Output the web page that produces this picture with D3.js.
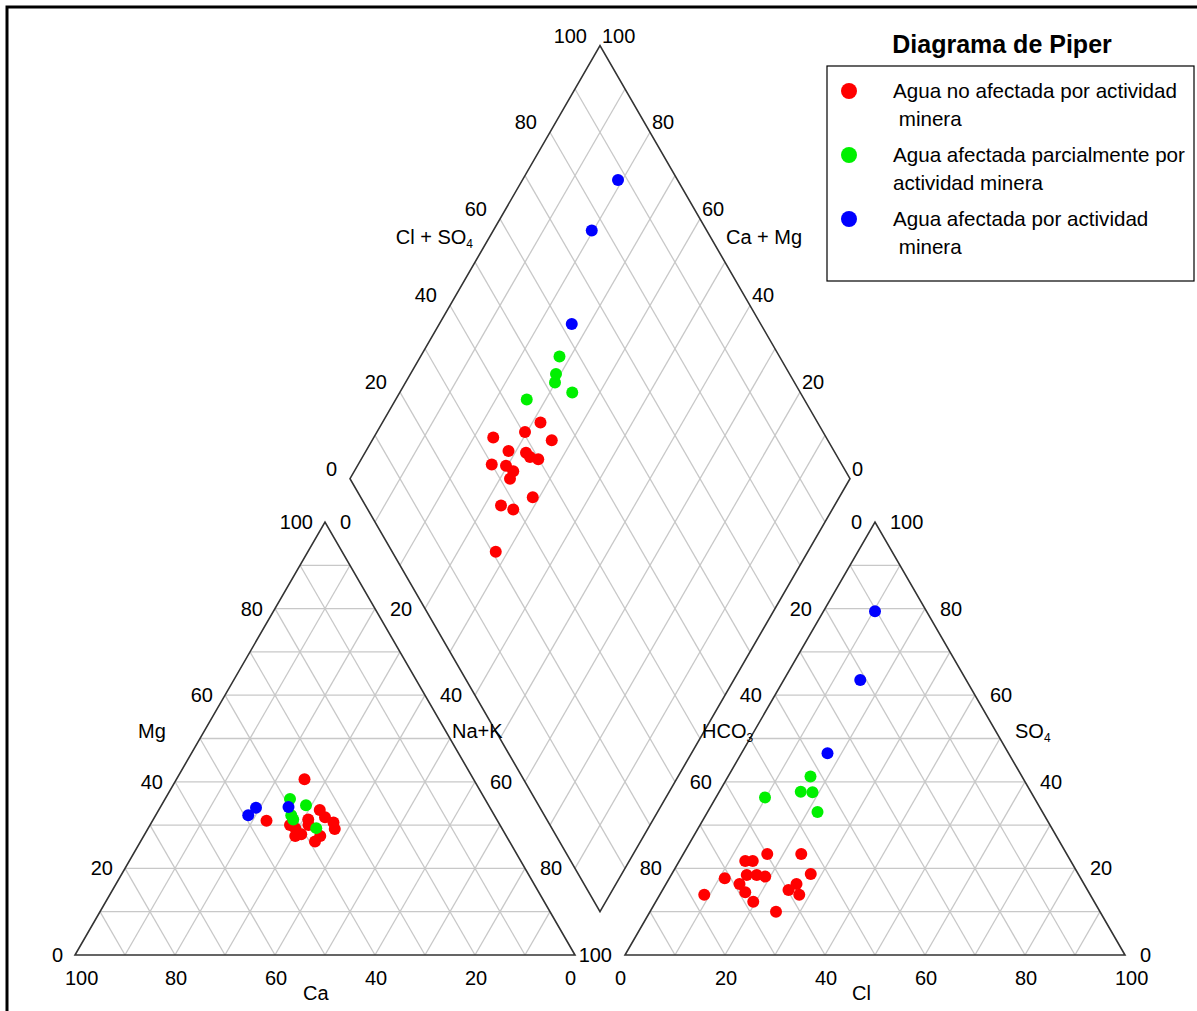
<!DOCTYPE html>
<html>
<head>
<meta charset="utf-8">
<script src="https://cdn.jsdelivr.net/npm/d3@7"></script>
<style>
  body { margin: 0; background: #fff; }
  text { font-family: "Liberation Sans", Arial, sans-serif; font-size: 20px; fill: #000; }
</style>
</head>
<body>
<div id="chart"></div>
<script>
// groups and colours
var groups = ["Agua no afectada por actividad minera",
              "Agua afectada parcialmente por actividad minera",
              "Agua afectada por actividad minera"];
var groupColors = ["#ff0000", "#00f000", "#0000ff"];
var legendLines = [["Agua no afectada por actividad", " minera"],
                   ["Agua afectada parcialmente por", "actividad minera"],
                   ["Agua afectada por actividad", " minera"]];
var ticks = [0, 20, 40, 60, 80, 100];

// cations, % meq [Ca, Mg]  (Na+K = 100 - Ca - Mg)
var catNo = [[33.8,40.6],[46.2,31.0],[34.3,33.5],[34.1,31.8],[33.0,30.6],[33.5,29.1],[37.7,31.3],
             [41.3,29.3],[42.2,27.5],[40.8,27.9],[37.2,27.5],[38.9,26.2],[38.3,30.0],[42.0,30.0]];
var catParcial = [[39.0,36.0],[36.5,34.6],[40.7,31.3],[40.6,32.3],[37.1,29.3]];
var catAfectada = [[49.2,32.3],[46.8,34.0],[40.2,34.2]];

// anions, % meq [Cl, SO4]  (HCO3 = 100 - Cl - SO4)
var anNo = [[16.8,23.3],[23.6,23.3],[13.2,21.7],[14.7,21.7],[27.8,18.7],[11.1,17.7],[15.1,18.5],
            [17.1,18.5],[19.0,18.1],[14.7,16.4],[26.1,16.4],[16.8,14.5],[25.2,15.0],[27.9,13.9],
            [8.9,13.9],[19.5,12.3],[25.2,10.0]];
var anParcial = [[16.5,41.2],[16.3,37.7],[18.7,37.6],[9.8,36.4],[22.0,33.0]];
var anAfectada = [[10.3,79.4],[15.3,63.5],[17.2,46.6]];

// diamond [Cl+SO4, Ca+Mg]
var diaNo = [[33.4,76.1],[40.4,70.4],[44.6,68.4],[44.8,64.1],[34.9,71.5],[38.2,67.8],[38.5,66.5],
             [39.9,64.6],[30.0,73.3],[32.7,70.3],[33.5,68.2],[32.0,68.0],[34.4,61.3],[27.1,66.7],
             [29.1,63.8],[20.7,62.4]];
var diaParcial = [[56.0,72.2],[53.3,70.9],[52.1,70.1],[54.4,65.5],[44.5,73.8]];
var diaAfectada = [[88.1,80.9],[77.0,80.3],[62.2,73.5]];

var cations = [catNo, catParcial, catAfectada],
    anions = [anNo, anParcial, anAfectada],
    dias = [diaNo, diaParcial, diaAfectada];

var W = 1197, H = 1011;
var side = 500, sq = Math.sqrt(3) / 2;
var leftX = 75, rightX = 625, baseY = 955, gap = rightX - leftX - side;

var t = d3.scaleLinear().domain([0, 100]).range([0, side]);

function cation(ca, mg) { var nak = 100 - ca - mg; return [leftX + t(nak) + t(mg) / 2, baseY - t(mg) * sq]; }
function anion(cl, so4) { return [rightX + t(cl) + t(so4) / 2, baseY - t(so4) * sq]; }
var dBot = [leftX + side + gap / 2, baseY - gap * sq];
function diamond(cs, cm) { return [dBot[0] + (t(cs) - t(cm)) / 2, dBot[1] - (t(cs) + t(cm)) * sq]; }

var svg = d3.select("#chart").append("svg")
  .attr("width", W).attr("height", H);

// frame
svg.append("rect")
  .attr("x", 7).attr("y", 7).attr("width", W + 20).attr("height", H + 20)
  .attr("fill", "none").attr("stroke", "#000").attr("stroke-width", 3);

var line = d3.line();

// grid
var grid = [];
d3.range(10, 100, 10).forEach(function(v) {
  grid.push([cation(100 - v, v), cation(0, v)]);
  grid.push([cation(v, 0), cation(v, 100 - v)]);
  grid.push([cation(100 - v, 0), cation(0, 100 - v)]);
  grid.push([anion(0, v), anion(100 - v, v)]);
  grid.push([anion(v, 0), anion(v, 100 - v)]);
  grid.push([anion(100 - v, 0), anion(0, 100 - v)]);
  grid.push([diamond(v, 0), diamond(v, 100)]);
  grid.push([diamond(0, v), diamond(100, v)]);
});
svg.append("g").selectAll("path").data(grid).enter().append("path")
  .attr("d", line).attr("stroke", "#c8c8c8").attr("stroke-width", 1.3).attr("fill", "none");

// outlines
var outlines = [
  [cation(100, 0), cation(0, 0), cation(0, 100)],
  [anion(0, 0), anion(100, 0), anion(0, 100)],
  [diamond(0, 0), diamond(100, 0), diamond(100, 100), diamond(0, 100)]
];
svg.append("g").selectAll("path").data(outlines).enter().append("path")
  .attr("d", function(d) { return line(d) + "Z"; })
  .attr("stroke", "#333").attr("stroke-width", 1.6).attr("fill", "none");

// tick labels
var lab = svg.append("g");
function tickText(p, dx, dy, anchor, txt) {
  lab.append("text").attr("x", p[0] + dx).attr("y", p[1] + dy)
    .attr("text-anchor", anchor).text(txt);
}
ticks.forEach(function(v) {
  tickText(cation(100 - v, v), -12, 7, "end", v);          // Mg
  tickText([cation(v, 0)[0], baseY], -10, 30, "start", v);  // Ca
  if (v < 100) tickText(cation(0, 100 - v), 15, 7, "start", v); // Na+K
  tickText(anion(0, 100 - v), -13, 7, "end", v);           // HCO3
  tickText(anion(100 - v, v), 15, 7, "start", v);          // SO4
  tickText([anion(v, 0)[0], baseY], -10, 30, "start", v);   // Cl
  tickText(diamond(v, 100), -13, -3, "end", v);            // Cl + SO4
  tickText(diamond(100, v), 2, -3, "start", v);            // Ca + Mg
});

// axis titles, parts are plain strings or [subscript]
function axisTitle(p, dx, dy, anchor, parts) {
  var tx = lab.append("text").attr("x", p[0] + dx).attr("y", p[1] + dy).attr("text-anchor", anchor);
  parts.forEach(function(s) {
    if (Array.isArray(s)) tx.append("tspan").attr("font-size", 12).attr("dy", 4).text(s[0]);
    else tx.append("tspan").text(s);
  });
}
axisTitle(cation(50, 50), -48, 0, "middle", ["Mg"]);
axisTitle([cation(55, 0)[0], baseY], 3, 45, "start", ["Ca"]);
axisTitle(cation(0, 50), 2, 0, "start", ["Na+K"]);
axisTitle(anion(0, 50), -48, 0, "start", ["HCO", ["3"]]);
axisTitle(anion(50, 50), 15, 0, "start", ["SO", ["4"]]);
axisTitle([anion(45, 0)[0], baseY], 2, 45, "start", ["Cl"]);
axisTitle(diamond(50, 100), -2, -18, "end", ["Cl + SO", ["4"]]);
axisTitle(diamond(100, 50), 1, -18, "start", ["Ca + Mg"]);

// points
var pts = [];
groups.forEach(function(g, i) {
  cations[i].forEach(function(d) { pts.push({g: i, p: cation(d[0], d[1])}); });
  anions[i].forEach(function(d) { pts.push({g: i, p: anion(d[0], d[1])}); });
  dias[i].forEach(function(d) { pts.push({g: i, p: diamond(d[0], d[1])}); });
});
svg.append("g").selectAll("circle").data(pts).enter().append("circle")
  .attr("cx", function(d) { return d.p[0]; })
  .attr("cy", function(d) { return d.p[1]; })
  .attr("r", 6)
  .attr("fill", function(d) { return groupColors[d.g]; });

// legend
svg.append("text").attr("x", 1002).attr("y", 53).attr("text-anchor", "middle")
  .style("font-weight", "bold").style("font-size", "25px").text("Diagrama de Piper");
var leg = svg.append("g").attr("transform", "translate(827,66)");
leg.append("rect").attr("width", 367).attr("height", 215)
  .attr("fill", "#fff").attr("stroke", "#000").attr("stroke-width", 1.2);
var item = leg.selectAll(".item").data(groups).enter().append("g")
  .attr("class", "item")
  .attr("transform", function(d, i) { return "translate(0," + (25 + i * 64) + ")"; });
item.append("circle").attr("cx", 22).attr("cy", 0).attr("r", 8)
  .attr("fill", function(d, i) { return groupColors[i]; });
item.selectAll("text").data(function(d, i) { return legendLines[i]; }).enter().append("text")
  .attr("x", 66).attr("y", function(d, j) { return 7 + j * 28; })
  .attr("xml:space", "preserve").style("white-space", "pre").style("font-size", "20.6px")
  .text(function(d) { return d; });
</script>
</body>
</html>
